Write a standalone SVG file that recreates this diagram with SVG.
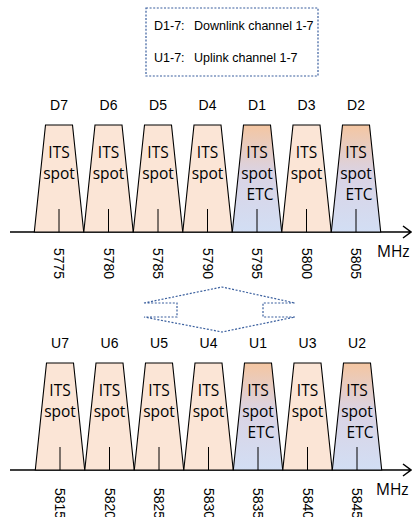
<svg xmlns="http://www.w3.org/2000/svg" width="412" height="517" viewBox="0 0 412 517">
<defs>
<linearGradient id="etc" x1="0" y1="0" x2="0" y2="1">
<stop offset="0" stop-color="#F4C6A2"/>
<stop offset="0.45" stop-color="#DAD3E4"/>
<stop offset="1" stop-color="#D2DEF4"/>
</linearGradient>
<style>
.tr{fill:#FBE5D6;stroke:#000;stroke-width:1.1}
.tre{fill:url(#etc);stroke:#000;stroke-width:1.1}
.tk{stroke:#000;stroke-width:1}
.ax{stroke:#000;stroke-width:1.5;fill:none}
.lb{font-family:"Liberation Sans",Arial,sans-serif;font-size:14px;fill:#000;text-anchor:middle}
.in{font-family:"Open Sans","Noto Sans",sans-serif;font-size:15.5px;fill:#000;text-anchor:middle}
.fq{font-family:"Liberation Sans",Arial,sans-serif;font-size:14px;fill:#000}
.mh{font-family:"Open Sans","Noto Sans",sans-serif;font-size:15.5px;fill:#000}
.lg{font-family:"Liberation Sans",Arial,sans-serif;font-size:12.5px;fill:#000}
.dash{fill:none;stroke:#3A5F9E;stroke-width:1.2;stroke-dasharray:2 1.6}
</style>
</defs>
<g id="legend">
<rect x="146" y="8" width="172" height="68" class="dash" stroke-width="1"/>
<text class="lg" x="154" y="30">D1-7:</text>
<text class="lg" x="194" y="30">Downlink channel 1-7</text>
<text class="lg" x="154" y="62">U1-7:</text>
<text class="lg" x="194" y="62">Uplink channel 1-7</text>
</g>
<g id="connectors">
<path class="ax" d="M10,232 H410 M403,226 L411,232 L403,238"/>
<path class="ax" d="M10,470 H410 M403,464 L411,470 L403,476"/>
<path class="dash" d="M144,303 L177,303 L177,317 L144,317 L222,332 L295,317 L263,317 L263,303 L295,303 L222,287 Z"/>
</g>
<g id="downlink">
<g id="D7"><text class="lb" x="59" y="110">D7</text><path class="tr" d="M34.3,232 L45.5,125 L72.5,125 L83.7,232 Z"/><text class="in" x="59" y="158">ITS</text><text class="in" x="59" y="179">spot</text><line class="tk" x1="59" y1="209" x2="59" y2="232"/></g>
<g id="D6"><text class="lb" x="108.5" y="110">D6</text><path class="tr" d="M83.8,232 L95,125 L122,125 L133.2,232 Z"/><text class="in" x="108.5" y="158">ITS</text><text class="in" x="108.5" y="179">spot</text><line class="tk" x1="108.5" y1="209" x2="108.5" y2="232"/></g>
<g id="D5"><text class="lb" x="158" y="110">D5</text><path class="tr" d="M133.3,232 L144.5,125 L171.5,125 L182.7,232 Z"/><text class="in" x="158" y="158">ITS</text><text class="in" x="158" y="179">spot</text><line class="tk" x1="158" y1="209" x2="158" y2="232"/></g>
<g id="D4"><text class="lb" x="207.5" y="110">D4</text><path class="tr" d="M182.8,232 L194,125 L221,125 L232.2,232 Z"/><text class="in" x="207.5" y="158">ITS</text><text class="in" x="207.5" y="179">spot</text><line class="tk" x1="207.5" y1="209" x2="207.5" y2="232"/></g>
<g id="D1"><text class="lb" x="257" y="110">D1</text><path class="tre" d="M232.3,232 L243.5,125 L270.5,125 L281.7,232 Z"/><text class="in" x="257" y="158">ITS</text><text class="in" x="257" y="179">spot</text><text class="in" x="260" y="200">ETC</text><line class="tk" x1="257" y1="209" x2="257" y2="232"/></g>
<g id="D3"><text class="lb" x="306.5" y="110">D3</text><path class="tr" d="M281.8,232 L293,125 L320,125 L331.2,232 Z"/><text class="in" x="306.5" y="158">ITS</text><text class="in" x="306.5" y="179">spot</text><line class="tk" x1="306.5" y1="209" x2="306.5" y2="232"/></g>
<g id="D2"><text class="lb" x="356" y="110">D2</text><path class="tre" d="M331.3,232 L342.5,125 L369.5,125 L380.7,232 Z"/><text class="in" x="356" y="158">ITS</text><text class="in" x="356" y="179">spot</text><text class="in" x="359" y="200">ETC</text><line class="tk" x1="356" y1="209" x2="356" y2="232"/></g>
<g id="freq-down">
<text class="fq" transform="translate(54,248) rotate(90)">5775</text>
<text class="fq" transform="translate(103.5,248) rotate(90)">5780</text>
<text class="fq" transform="translate(153,248) rotate(90)">5785</text>
<text class="fq" transform="translate(202.5,248) rotate(90)">5790</text>
<text class="fq" transform="translate(252,248) rotate(90)">5795</text>
<text class="fq" transform="translate(301.5,248) rotate(90)">5800</text>
<text class="fq" transform="translate(351,248) rotate(90)">5805</text>
</g>
<text class="mh" x="377" y="257">MHz</text>
</g>
<g id="uplink" transform="translate(1,238)">
<g id="U7"><text class="lb" x="59" y="110">U7</text><path class="tr" d="M34.3,232 L45.5,125 L72.5,125 L83.7,232 Z"/><text class="in" x="59" y="158">ITS</text><text class="in" x="59" y="179">spot</text><line class="tk" x1="59" y1="209" x2="59" y2="232"/></g>
<g id="U6"><text class="lb" x="108.5" y="110">U6</text><path class="tr" d="M83.8,232 L95,125 L122,125 L133.2,232 Z"/><text class="in" x="108.5" y="158">ITS</text><text class="in" x="108.5" y="179">spot</text><line class="tk" x1="108.5" y1="209" x2="108.5" y2="232"/></g>
<g id="U5"><text class="lb" x="158" y="110">U5</text><path class="tr" d="M133.3,232 L144.5,125 L171.5,125 L182.7,232 Z"/><text class="in" x="158" y="158">ITS</text><text class="in" x="158" y="179">spot</text><line class="tk" x1="158" y1="209" x2="158" y2="232"/></g>
<g id="U4"><text class="lb" x="207.5" y="110">U4</text><path class="tr" d="M182.8,232 L194,125 L221,125 L232.2,232 Z"/><text class="in" x="207.5" y="158">ITS</text><text class="in" x="207.5" y="179">spot</text><line class="tk" x1="207.5" y1="209" x2="207.5" y2="232"/></g>
<g id="U1"><text class="lb" x="257" y="110">U1</text><path class="tre" d="M232.3,232 L243.5,125 L270.5,125 L281.7,232 Z"/><text class="in" x="257" y="158">ITS</text><text class="in" x="257" y="179">spot</text><text class="in" x="260" y="200">ETC</text><line class="tk" x1="257" y1="209" x2="257" y2="232"/></g>
<g id="U3"><text class="lb" x="306.5" y="110">U3</text><path class="tr" d="M281.8,232 L293,125 L320,125 L331.2,232 Z"/><text class="in" x="306.5" y="158">ITS</text><text class="in" x="306.5" y="179">spot</text><line class="tk" x1="306.5" y1="209" x2="306.5" y2="232"/></g>
<g id="U2"><text class="lb" x="356" y="110">U2</text><path class="tre" d="M331.3,232 L342.5,125 L369.5,125 L380.7,232 Z"/><text class="in" x="356" y="158">ITS</text><text class="in" x="356" y="179">spot</text><text class="in" x="359" y="200">ETC</text><line class="tk" x1="356" y1="209" x2="356" y2="232"/></g>
<g id="freq-up">
<text class="fq" transform="translate(54,250) rotate(90)">5815</text>
<text class="fq" transform="translate(103.5,250) rotate(90)">5820</text>
<text class="fq" transform="translate(153,250) rotate(90)">5825</text>
<text class="fq" transform="translate(202.5,250) rotate(90)">5830</text>
<text class="fq" transform="translate(252,250) rotate(90)">5835</text>
<text class="fq" transform="translate(301.5,250) rotate(90)">5840</text>
<text class="fq" transform="translate(351,250) rotate(90)">5845</text>
</g>
<text class="mh" x="375" y="257">MHz</text>
</g>
</svg>
